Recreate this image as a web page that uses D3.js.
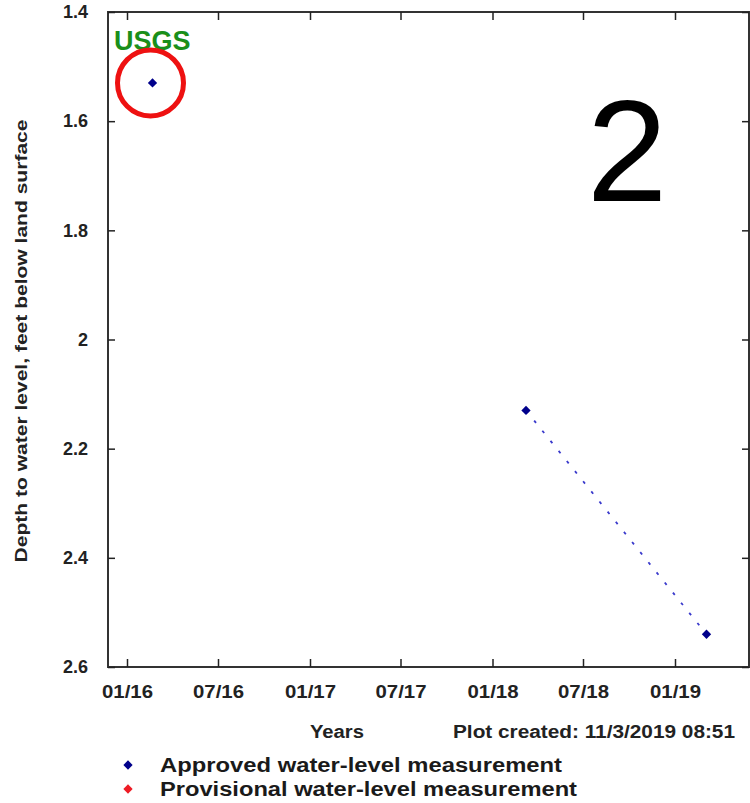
<!DOCTYPE html>
<html>
<head>
<meta charset="utf-8">
<script src="https://cdn.jsdelivr.net/npm/d3@7"></script>
<style>
  body { margin: 0; background: #fff; }
  svg text { font-family: "Liberation Sans", Arial, sans-serif; }
</style>
</head>
<body>
<div id="chart"></div>
<script>
// measurement dates and depth below land surface (feet)
const dates = ["2016-02-21", "2018-03-09", "2019-03-05"];
const depths = [1.53, 2.13, 2.54];
const status = ["Approved", "Approved", "Approved"];

const yTicks = [1.4, 1.6, 1.8, 2, 2.2, 2.4, 2.6];
const xTicks = ["2016-01-01", "2016-07-01", "2017-01-01", "2017-07-01", "2018-01-01", "2018-07-01", "2019-01-01"];

const legendLabels = ["Approved water-level measurement", "Provisional water-level measurement"];
const legendColors = ["#00008b", "#ee1c25"];

const parse = d3.timeParse("%Y-%m-%d");
const data = dates.map((d, i) => ({ date: parse(d), depth: depths[i], status: status[i] }));

const margin = { top: 12, right: 1, bottom: 136, left: 108 },
      width = 750 - margin.left - margin.right,
      height = 803 - margin.top - margin.bottom;

const svg = d3.select('#chart').append('svg')
    .attr('width', 750)
    .attr('height', 803);

const g = svg.append('g')
    .attr('transform', `translate(${margin.left},${margin.top})`);

const x = d3.scaleTime()
    .domain([parse("2015-11-24"), parse("2019-05-29")])
    .range([0, width]);

const y = d3.scaleLinear()
    .domain([1.4, 2.6])
    .range([0, height]);

// frame
g.append("rect")
    .attr("width", width)
    .attr("height", height)
    .attr("fill", "none")
    .attr("stroke", "#333")
    .attr("stroke-width", 2);

// axes, ticks pointing inwards
const fmtY = d3.format("~g");
g.append("g")
    .attr("class", "y axis")
    .call(d3.axisLeft(y).tickValues(yTicks).tickSizeInner(-7).tickSizeOuter(0).tickPadding(20).tickFormat(fmtY))
    .call(a => a.select(".domain").remove())
    .call(a => a.selectAll("line").attr("stroke", "#222").attr("stroke-width", 1.5))
    .call(a => a.selectAll("text").attr("font-size", 18).attr("font-weight", "bold").attr("fill", "#222"));

g.append("g")
    .attr("transform", `translate(${width},0)`)
    .call(d3.axisRight(y).tickValues(yTicks).tickSizeInner(-7).tickSizeOuter(0).tickFormat(""))
    .call(a => a.select(".domain").remove())
    .call(a => a.selectAll("line").attr("stroke", "#222").attr("stroke-width", 1.5));

const fmtX = d3.timeFormat("%m/%y");
g.append("g")
    .attr("class", "x axis")
    .attr("transform", `translate(0,${height})`)
    .call(d3.axisBottom(x).tickValues(xTicks.map(parse)).tickSizeInner(-8).tickSizeOuter(0).tickPadding(18).tickFormat(fmtX))
    .call(a => a.select(".domain").remove())
    .call(a => a.selectAll("line").attr("stroke", "#222").attr("stroke-width", 1.5))
    .call(a => a.selectAll("text").attr("font-size", 18).attr("font-weight", "bold").attr("fill", "#222")
        .attr("textLength", 51).attr("lengthAdjust", "spacingAndGlyphs"));

g.append("g")
    .call(d3.axisTop(x).tickValues(xTicks.map(parse)).tickSizeInner(-8).tickSizeOuter(0).tickFormat(""))
    .call(a => a.select(".domain").remove())
    .call(a => a.selectAll("line").attr("stroke", "#222").attr("stroke-width", 1.5));

// dotted line, broken where measurements are more than a year apart
const line = d3.line()
    .x(d => x(d.date))
    .y(d => y(d.depth));
for (let i = 1; i < data.length; i++) {
    if (data[i].date - data[i - 1].date < 400 * 864e5) {
        g.append("path")
            .datum([data[i - 1], data[i]])
            .attr("d", line)
            .attr("fill", "none")
            .attr("stroke", "#3a3acc")
            .attr("stroke-width", 1.8)
            .attr("stroke-dasharray", "3,10");
    }
}

const diamond = d3.symbol().type(d3.symbolDiamond2).size(55);
g.selectAll(".pt")
    .data(data)
    .enter().append("path")
    .attr("class", "pt")
    .attr("d", diamond)
    .attr("transform", d => `translate(${x(d.date)},${y(d.depth)})`)
    .attr("fill", d => d.status === "Approved" ? legendColors[0] : legendColors[1]);

// USGS tag and annotations
g.append("text")
    .attr("x", 6)
    .attr("y", 38)
    .attr("font-size", 27)
    .attr("font-weight", "bold")
    .attr("fill", "#1a8f1a")
    .text("USGS");

g.append("circle")
    .attr("cx", x(data[0].date) - 2)
    .attr("cy", y(data[0].depth))
    .attr("r", 33)
    .attr("fill", "none")
    .attr("stroke", "#ee1111")
    .attr("stroke-width", 5);

svg.append("text")
    .attr("x", 627)
    .attr("y", 201)
    .attr("text-anchor", "middle")
    .attr("font-size", 145)
    .attr("fill", "#000")
    .text("2");

// axis titles
svg.append("text")
    .attr("transform", `translate(27,341) rotate(-90)`)
    .attr("text-anchor", "middle")
    .attr("font-size", 17)
    .attr("font-weight", "bold")
    .attr("fill", "#222")
    .attr("textLength", 443)
    .attr("lengthAdjust", "spacingAndGlyphs")
    .text("Depth to water level, feet below land surface");

svg.append("text")
    .attr("x", 337)
    .attr("y", 738)
    .attr("text-anchor", "middle")
    .attr("font-size", 18)
    .attr("font-weight", "bold")
    .attr("fill", "#222")
    .attr("textLength", 54)
    .attr("lengthAdjust", "spacingAndGlyphs")
    .text("Years");

svg.append("text")
    .attr("x", 594)
    .attr("y", 738)
    .attr("text-anchor", "middle")
    .attr("font-size", 18)
    .attr("font-weight", "bold")
    .attr("fill", "#222")
    .attr("textLength", 282)
    .attr("lengthAdjust", "spacingAndGlyphs")
    .text("Plot created: 11/3/2019 08:51");

// legend
const legend = svg.selectAll(".legend")
    .data(legendLabels)
    .enter().append("g")
    .attr("class", "legend")
    .attr("transform", (d, i) => `translate(128,${765 + i * 24})`);

legend.append("path")
    .attr("d", diamond)
    .attr("fill", (d, i) => legendColors[i]);

legend.append("text")
    .attr("x", 32)
    .attr("y", 7)
    .attr("font-size", 20)
    .attr("font-weight", "bold")
    .attr("fill", "#1a1a1a")
    .attr("textLength", (d, i) => i === 0 ? 402 : 417)
    .attr("lengthAdjust", "spacingAndGlyphs")
    .text(d => d);
</script>
</body>
</html>
